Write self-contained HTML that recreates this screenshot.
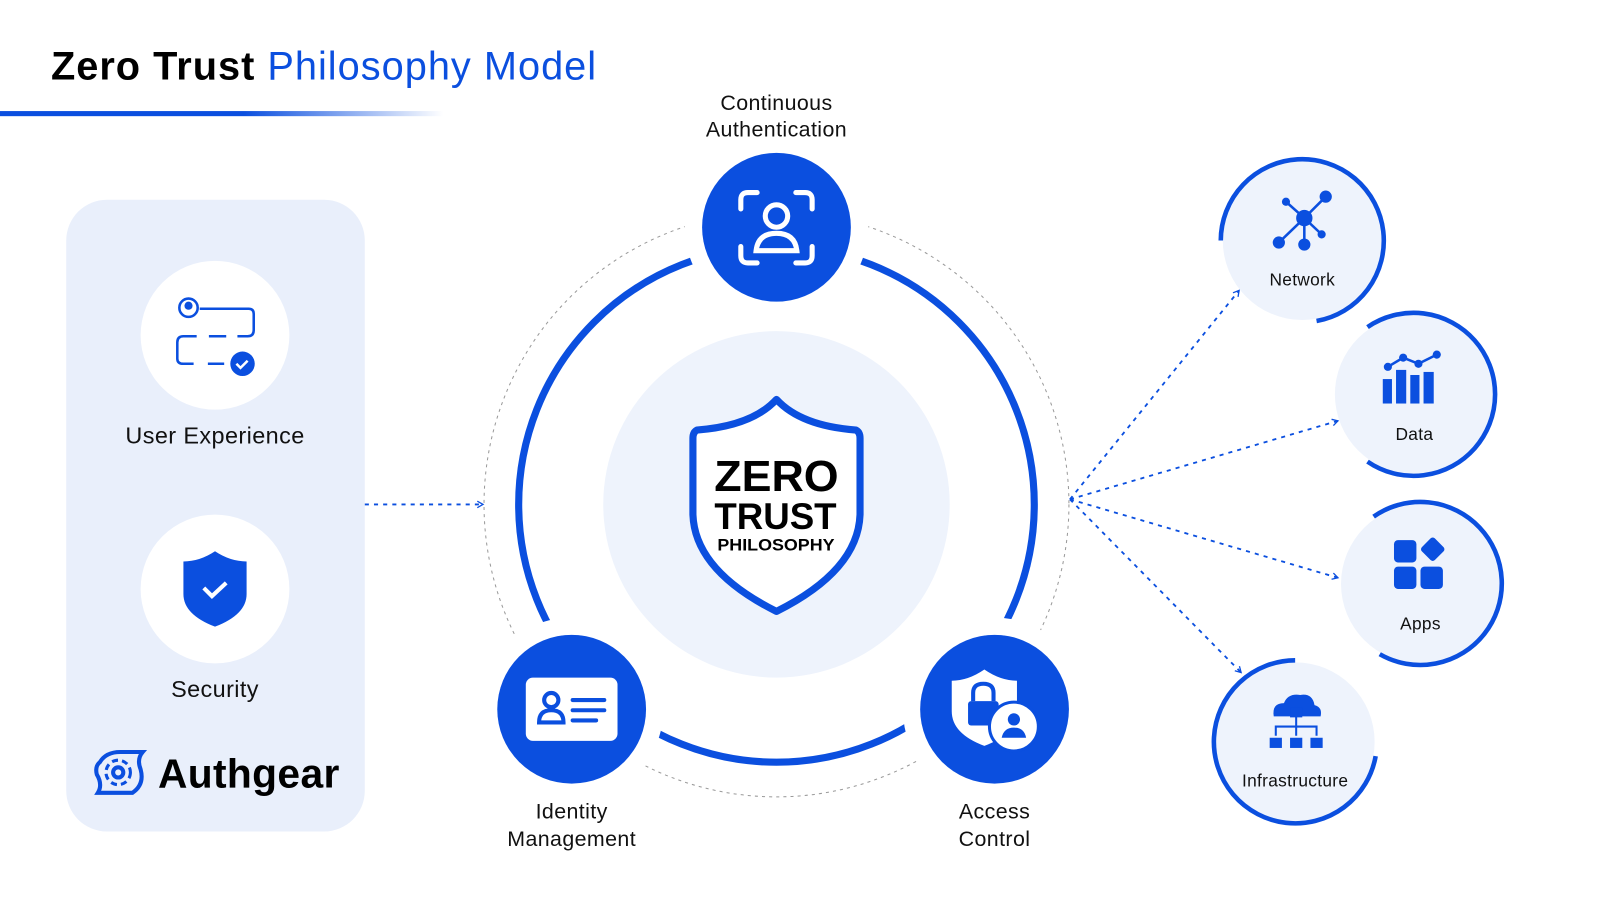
<!DOCTYPE html>
<html><head><meta charset="utf-8">
<style>
html,body{margin:0;padding:0;background:#fff;}
svg{display:block;font-family:"Liberation Sans",sans-serif;}
</style></head>
<body>
<svg width="1600" height="900" viewBox="0 0 1600 900" xmlns="http://www.w3.org/2000/svg">
<defs>
<linearGradient id="ul" x1="0" x2="1" y1="0" y2="0">
<stop offset="0" stop-color="#0b4fdf"/><stop offset="0.55" stop-color="#0b4fdf"/><stop offset="1" stop-color="#0b4fdf" stop-opacity="0"/>
</linearGradient>
<marker id="ar" viewBox="0 0 10 10" refX="8" refY="5" markerWidth="8" markerHeight="8" orient="auto" markerUnits="userSpaceOnUse">
<path d="M1,1 L8,5 L1,9" fill="none" stroke="#0b4fdf" stroke-width="1.6"/>
</marker>
</defs>
<g transform="scale(1.019)">
<text x="50" y="78" font-size="39" font-weight="700" fill="#000" textLength="535" lengthAdjust="spacing">Zero Trust <tspan font-weight="400" fill="#0b4fdf">Philosophy Model</tspan></text>
<rect x="0" y="109" width="435" height="5" fill="url(#ul)"/>

<rect x="65" y="196" width="293" height="620" rx="40" fill="#e9effb"/>
<circle cx="211" cy="329" r="73" fill="#fff"/>
<circle cx="211" cy="578" r="73" fill="#fff"/>
<g fill="none" stroke="#0b4fdf" stroke-width="2.5">
<circle cx="185" cy="302" r="9"/>
<path d="M196,303 H244 Q249,303 249,308 V324 Q249,330 243,330 H233"/>
<path d="M222,330 H205"/>
<path d="M193,330 H180 Q174,330 174,336 V352 Q174,357 180,357 H190"/>
<path d="M204,357 H220"/>
</g>
<circle cx="185" cy="300" r="4" fill="#0b4fdf"/>
<circle cx="238" cy="357" r="12" fill="#0b4fdf"/>
<path d="M232,357 l4,4 l7,-7" fill="none" stroke="#fff" stroke-width="2.5"/>
<text x="211" y="435" font-size="23" text-anchor="middle" fill="#111" letter-spacing="0.4">User Experience</text>
<path d="M211,541 Q196,551 180,551 V583 Q180,603 211,615 Q242,603 242,583 V551 Q226,551 211,541 Z" fill="#0b4fdf"/>
<path d="M200,577 l8,8 l14,-13" fill="none" stroke="#fff" stroke-width="4"/>
<text x="211" y="684" font-size="23" text-anchor="middle" fill="#111" letter-spacing="0.4">Security</text>
<g fill="none" stroke="#0b4fdf" stroke-width="4">
<path d="M98,748 Q104,738 118,738 H140 Q134,745 138,755 Q142,770 130,778 H96 Q101,770 95,760 Q93,752 98,748 Z"/>
<circle cx="116" cy="758" r="5"/>
<circle cx="116" cy="758" r="12" stroke-dasharray="6 4" stroke-width="3"/>
</g>
<text x="155" y="773" font-size="40" font-weight="700" fill="#000" textLength="178" lengthAdjust="spacing">Authgear</text>

<line x1="358" y1="495" x2="474" y2="495" stroke="#0b4fdf" stroke-width="1.8" stroke-dasharray="4 5" marker-end="url(#ar)"/>

<circle cx="762" cy="495" r="287" fill="none" stroke="#999" stroke-width="1" stroke-dasharray="3 4"/>
<circle cx="762" cy="495" r="170" fill="#eef3fc"/>
<circle cx="762" cy="495" r="253" fill="none" stroke="#0b4fdf" stroke-width="7"/>
<circle cx="762" cy="223" r="90" fill="#fff"/>
<circle cx="561" cy="696" r="90" fill="#fff"/>
<circle cx="976" cy="696" r="90" fill="#fff"/>
<circle cx="762" cy="223" r="73" fill="#0b4fdf"/>
<circle cx="561" cy="696" r="73" fill="#0b4fdf"/>
<circle cx="976" cy="696" r="73" fill="#0b4fdf"/>

<g fill="none" stroke="#fff" stroke-width="5" stroke-linecap="round">
<path d="M727,205 V196 Q727,189 734,189 H743"/>
<path d="M781,189 H790 Q797,189 797,196 V205"/>
<path d="M727,242 V251 Q727,258 734,258 H743"/>
<path d="M797,242 V251 Q797,258 790,258 H781"/>
<circle cx="762" cy="212" r="11"/>
<path d="M742,246 Q744,229 762,229 Q780,229 782,246 Z"/>
</g>
<rect x="516" y="665" width="90" height="62" rx="7" fill="#fff"/>
<circle cx="541" cy="687" r="7" fill="none" stroke="#0b4fdf" stroke-width="4"/>
<path d="M529,709 Q529,697 541,697 Q553,697 553,709 Z" fill="none" stroke="#0b4fdf" stroke-width="4"/>
<g stroke="#0b4fdf" stroke-width="4" stroke-linecap="round"><line x1="562" y1="687" x2="593" y2="687"/><line x1="562" y1="697" x2="593" y2="697"/><line x1="562" y1="707" x2="585" y2="707"/></g>
<path d="M966,657 Q950,668 934,668 V698 Q934,720 966,732 Q998,720 998,698 V668 Q982,668 966,657 Z" fill="#fff"/>
<rect x="950" y="688" width="30" height="24" rx="3" fill="#0b4fdf"/>
<path d="M955,688 V680 Q955,671 965,671 Q975,671 975,680 V688" fill="none" stroke="#0b4fdf" stroke-width="4"/>
<circle cx="995" cy="713" r="24" fill="#fff" stroke="#0b4fdf" stroke-width="3"/>
<circle cx="995" cy="706" r="6" fill="#0b4fdf"/>
<path d="M983,724 Q985,714 995,714 Q1005,714 1007,724 Z" fill="#0b4fdf"/>

<path d="M762,392 Q738,418 684,422 Q680,424 680,430 V505 Q682,560 762,600 Q842,560 844,505 V430 Q844,424 840,422 Q786,418 762,392 Z" fill="#fff" stroke="#0b4fdf" stroke-width="7" stroke-linejoin="round"/>
<text x="701" y="482" font-size="43" font-weight="700" fill="#000" textLength="122" lengthAdjust="spacingAndGlyphs">ZERO</text>
<text x="701" y="519" font-size="36" font-weight="700" fill="#000" textLength="120" lengthAdjust="spacingAndGlyphs">TRUST</text>
<text x="704" y="540" font-size="16" font-weight="700" fill="#000" textLength="115" lengthAdjust="spacingAndGlyphs">PHILOSOPHY</text>

<g font-size="21" text-anchor="middle" fill="#111" letter-spacing="0.4">
<text x="762" y="108">Continuous</text><text x="762" y="134">Authentication</text>
<text x="561" y="803">Identity</text><text x="561" y="830">Management</text>
<text x="976" y="803">Access</text><text x="976" y="830">Control</text>
</g>

<g stroke="#0b4fdf" stroke-width="1.8" stroke-dasharray="4 5" marker-end="url(#ar)" fill="none">
<line x1="1050" y1="490" x2="1216" y2="285"/>
<line x1="1050" y1="490" x2="1313" y2="413"/>
<line x1="1050" y1="490" x2="1313" y2="567"/>
<line x1="1050" y1="490" x2="1218" y2="660"/>
</g>

<g fill="#eef3fc">
<circle cx="1278" cy="236" r="78"/><circle cx="1388" cy="387" r="78"/>
<circle cx="1394" cy="573" r="78"/><circle cx="1271" cy="728" r="78"/>
</g>
<g fill="none" stroke="#0b4fdf" stroke-width="4.5">
<path d="M1198,236 A80,80 0 1 1 1292,315"/>
<path d="M1342,321 A80,80 0 1 1 1342,453"/>
<path d="M1348,507 A80,80 0 1 1 1354,642"/>
<path d="M1350,742 A80,80 0 1 1 1271,648"/>
</g>
<g stroke="#0b4fdf" stroke-width="2.5"><line x1="1280" y1="214" x2="1262" y2="198"/><line x1="1280" y1="214" x2="1301" y2="193"/><line x1="1280" y1="214" x2="1255" y2="238"/><line x1="1280" y1="214" x2="1280" y2="240"/><line x1="1280" y1="214" x2="1297" y2="230"/></g>
<g fill="#0b4fdf"><circle cx="1280" cy="214" r="8"/><circle cx="1262" cy="198" r="4"/><circle cx="1301" cy="193" r="6"/><circle cx="1255" cy="238" r="6"/><circle cx="1280" cy="240" r="6"/><circle cx="1297" cy="230" r="4"/></g>
<text x="1278" y="280" font-size="17" text-anchor="middle" fill="#111" letter-spacing="0.3">Network</text>
<g fill="#0b4fdf"><rect x="1357" y="372" width="9" height="24"/><rect x="1370" y="363" width="10" height="33"/><rect x="1384" y="368" width="9" height="28"/><rect x="1397" y="365" width="10" height="31"/>
<circle cx="1362" cy="360" r="4"/><circle cx="1377" cy="351" r="4"/><circle cx="1392" cy="357" r="4"/><circle cx="1410" cy="348" r="4"/></g>
<polyline points="1362,360 1377,351 1392,357 1410,348" fill="none" stroke="#0b4fdf" stroke-width="2.5"/>
<text x="1388" y="432" font-size="17" text-anchor="middle" fill="#111" letter-spacing="0.3">Data</text>
<g fill="#0b4fdf"><rect x="1368" y="530" width="22" height="22" rx="4"/><rect x="1368" y="556" width="22" height="22" rx="4"/><rect x="1394" y="556" width="22" height="22" rx="4"/><rect x="1397" y="530" width="18" height="18" rx="3" transform="rotate(45 1406 539)"/></g>
<text x="1394" y="618" font-size="17" text-anchor="middle" fill="#111" letter-spacing="0.3">Apps</text>
<path d="M1250,703 Q1248,690 1260,690 Q1264,680 1276,682 Q1288,680 1290,692 Q1298,694 1296,703 Z" fill="#0b4fdf"/>
<g stroke="#0b4fdf" stroke-width="2" fill="none"><path d="M1272,703 V713 M1252,722 V713 H1292 V722 M1272,713 V722"/></g>
<g fill="#0b4fdf"><rect x="1266" y="694" width="12" height="10"/><rect x="1246" y="724" width="12" height="10"/><rect x="1266" y="724" width="12" height="10"/><rect x="1286" y="724" width="12" height="10"/></g>
<text x="1271" y="772" font-size="17" text-anchor="middle" fill="#111" letter-spacing="0.3">Infrastructure</text>
</g>
</svg>
</body></html>
